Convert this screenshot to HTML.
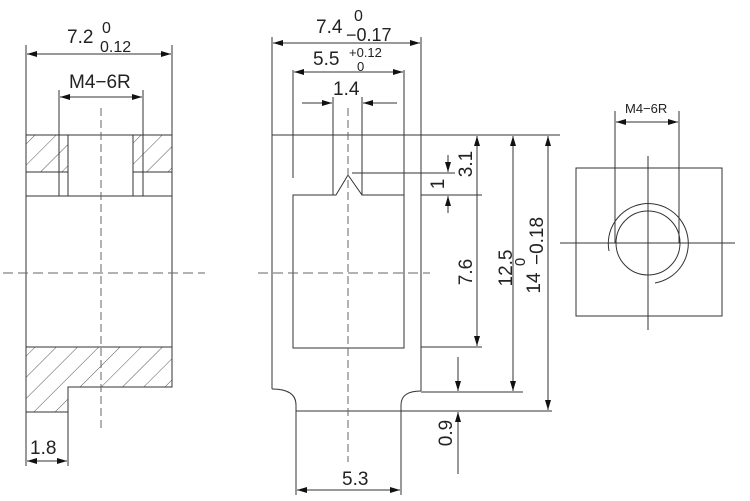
<!DOCTYPE html>
<html><head><style>
html,body{margin:0;padding:0;background:#fff;}
svg{display:block;}
text{font-family:"Liberation Sans",sans-serif;fill:#222;}
</style></head><body>
<svg width="750" height="501" viewBox="0 0 750 501" xmlns="http://www.w3.org/2000/svg">
<defs>
<marker id="a" viewBox="0 0 10 6" refX="10" refY="3" markerWidth="10" markerHeight="6" orient="auto-start-reverse" markerUnits="userSpaceOnUse"><path d="M0,0 L10,3 L0,6 z" fill="#111"/></marker>
<pattern id="h" patternUnits="userSpaceOnUse" width="15" height="15" patternTransform="rotate(45)"><line x1="0" y1="0" x2="0" y2="15" stroke="#444" stroke-width="0.9"/></pattern>
</defs>
<g stroke="#333" stroke-width="1" fill="none">
<rect x="26" y="135" width="42" height="37" fill="url(#h)" stroke="none"/>
<rect x="133" y="135" width="39" height="37" fill="url(#h)" stroke="none"/>
<path d="M26,347 H172 V387 H68 V412 H26 Z" fill="url(#h)" stroke="none"/>
<rect x="26" y="135" width="146" height="61"/>
<line x1="26" y1="172" x2="68" y2="172"/><line x1="133" y1="172" x2="172" y2="172"/>
<line x1="59" y1="90" x2="59" y2="196"/><line x1="68" y1="135" x2="68" y2="196"/>
<line x1="133" y1="135" x2="133" y2="196"/><line x1="143" y1="90" x2="143" y2="196"/>
<path d="M26,196 V412 H68 V387 H172 V196"/>
<line x1="26" y1="347" x2="172" y2="347"/>
<line x1="26" y1="45" x2="26" y2="135"/><line x1="172" y1="45" x2="172" y2="135"/>
<line x1="27" y1="54" x2="171" y2="54" marker-start="url(#a)" marker-end="url(#a)"/>
<line x1="60" y1="97" x2="142" y2="97" marker-start="url(#a)" marker-end="url(#a)"/>
<line x1="26" y1="412" x2="26" y2="466"/><line x1="68" y1="412" x2="68" y2="466"/>
<line x1="27" y1="461" x2="67" y2="461" marker-start="url(#a)" marker-end="url(#a)"/>
<line x1="101" y1="108" x2="101" y2="428" stroke-dasharray="8,4" stroke="#666"/>
<line x1="3" y1="273" x2="205" y2="273" stroke-dasharray="10,5" stroke="#666"/>
<line x1="272" y1="135" x2="560" y2="135"/>
<line x1="272" y1="37" x2="272" y2="389"/>
<path d="M272,389 Q296,389 296,405 V495"/>
<line x1="421" y1="37" x2="421" y2="391"/>
<path d="M421,391 Q401,391 401,405 V495"/>
<line x1="296" y1="411" x2="552" y2="411"/>
<line x1="421" y1="392" x2="523" y2="392"/>
<path d="M293,195 H336 L348,175 L362,195 H404 V348 H293 Z"/>
<line x1="293" y1="70" x2="293" y2="178"/><line x1="404" y1="70" x2="404" y2="195"/>
<line x1="333" y1="97" x2="333" y2="195"/><line x1="362" y1="97" x2="362" y2="195"/>
<line x1="273" y1="43" x2="420" y2="43" marker-start="url(#a)" marker-end="url(#a)"/>
<line x1="294" y1="72" x2="403" y2="72" marker-start="url(#a)" marker-end="url(#a)"/>
<line x1="302" y1="103" x2="332" y2="103" marker-end="url(#a)"/>
<line x1="397" y1="103" x2="363" y2="103" marker-end="url(#a)"/>
<line x1="348" y1="108" x2="348" y2="462" stroke-dasharray="8,4" stroke="#666"/>
<line x1="258" y1="273" x2="430" y2="273" stroke-dasharray="10,5" stroke="#666"/>
<line x1="421" y1="195" x2="482" y2="195"/>
<line x1="352" y1="173" x2="455" y2="173"/>
<line x1="421" y1="347" x2="482" y2="347"/>
<line x1="448" y1="155" x2="448" y2="172" marker-end="url(#a)"/>
<line x1="448" y1="213" x2="448" y2="196" marker-end="url(#a)"/>
<line x1="477" y1="136" x2="477" y2="346" marker-start="url(#a)" marker-end="url(#a)"/>
<line x1="513" y1="136" x2="513" y2="391" marker-start="url(#a)" marker-end="url(#a)"/>
<line x1="548" y1="136" x2="548" y2="410" marker-start="url(#a)" marker-end="url(#a)"/>
<line x1="458" y1="357" x2="458" y2="391" marker-end="url(#a)"/>
<line x1="458" y1="474" x2="458" y2="412" marker-end="url(#a)"/>
<line x1="297" y1="490" x2="400" y2="490" marker-start="url(#a)" marker-end="url(#a)"/>
<rect x="576" y="168" width="146" height="148"/>
<line x1="648" y1="156" x2="648" y2="330"/>
<line x1="560" y1="243" x2="735" y2="243"/>
<circle cx="648" cy="243" r="32"/>
<path d="M609,251 A40,40 0 1 1 655,283"/>
<line x1="615" y1="111" x2="615" y2="243"/><line x1="679" y1="111" x2="679" y2="243"/>
<line x1="616" y1="122" x2="678" y2="122" marker-start="url(#a)" marker-end="url(#a)"/>
</g>
<g font-size="19" stroke="none">
<text x="67" y="43">7.2</text>
<text x="102" y="33" font-size="16">0</text>
<text x="100" y="52" font-size="16">0.12</text>
<text x="69" y="88">M4−6R</text>
<text x="30" y="454">1.8</text>
<text x="354" y="21" font-size="16">0</text>
<text x="316" y="33">7.4</text>
<text x="346" y="41" font-size="18">−0.17</text>
<text x="313" y="65">5.5</text>
<text x="349" y="57" font-size="13">+0.12</text>
<text x="357" y="71" font-size="13">0</text>
<text x="333" y="95">1.4</text>
<text x="342" y="485">5.3</text>
<text transform="translate(472,164) rotate(-90)" text-anchor="middle">3.1</text>
<text transform="translate(444,184) rotate(-90)" text-anchor="middle">1</text>
<text transform="translate(472,272) rotate(-90)" text-anchor="middle">7.6</text>
<text transform="translate(512,268) rotate(-90)" text-anchor="middle">12.5</text>
<text transform="translate(525,262) rotate(-90)" text-anchor="middle" font-size="15">0</text>
<text transform="translate(540,283) rotate(-90)" text-anchor="middle">14</text>
<text transform="translate(543,241) rotate(-90)" text-anchor="middle">−0.18</text>
<text transform="translate(452,433) rotate(-90)" text-anchor="middle">0.9</text>
<text x="625" y="113" font-size="13">M4−6R</text>
</g>
</svg>
</body></html>
